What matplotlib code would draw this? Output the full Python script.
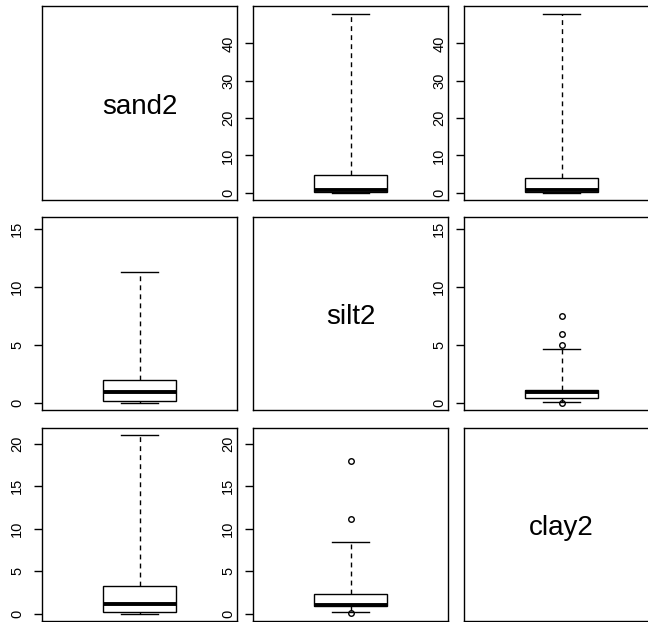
import matplotlib.pyplot as plt

plt.rcParams['font.family'] = ['Liberation Sans', 'DejaVu Sans']

names = ["sand2", "silt2", "clay2"]

# range of each variable, used for the y limits of its row
var_min = [0.0, 0.0, 0.0]
var_max = [48.1, 15.45, 21.0]
yticks = [[0, 10, 20, 30, 40], [0, 5, 10, 15], [0, 5, 10, 15, 20]]

# boxplot stats per off-diagonal panel: (row, col) -> low whisker, q1, median, q3, high whisker
whislo = {(0, 1): 0.0, (0, 2): 0.0, (1, 0): 0.0, (1, 2): 0.1, (2, 0): 0.0, (2, 1): 0.19}
q1 = {(0, 1): 0.27, (0, 2): 0.15, (1, 0): 0.17, (1, 2): 0.40, (2, 0): 0.27, (2, 1): 0.88}
med = {(0, 1): 0.8, (0, 2): 0.75, (1, 0): 0.95, (1, 2): 0.92, (2, 0): 1.13, (2, 1): 1.05}
q3 = {(0, 1): 4.74, (0, 2): 4.1, (1, 0): 1.98, (1, 2): 1.09, (2, 0): 3.31, (2, 1): 2.29}
whishi = {(0, 1): 48.0, (0, 2): 48.0, (1, 0): 11.34, (1, 2): 4.62, (2, 0): 21.0, (2, 1): 8.46}
fliers = {(0, 1): [], (0, 2): [], (1, 0): [], (1, 2): [7.47, 5.97, 4.97, 0.03],
          (2, 0): [], (2, 1): [17.97, 11.1, 0.1]}

W, H = 648, 622
fig = plt.figure(figsize=(W / 100, H / 100), dpi=100)

col_px = [(42, 237), (253, 448), (464, 659)]
row_px = [(6, 200), (217, 410), (428, 621)]

for i in range(3):
    for j in range(3):
        x0, x1 = col_px[j]
        y0, y1 = row_px[i]
        ax = fig.add_axes([x0 / W, 1 - y1 / H, (x1 - x0) / W, (y1 - y0) / H])
        for s in ax.spines.values():
            s.set_linewidth(1.0)
        ax.set_xticks([])
        r = var_max[i] - var_min[i]
        ax.set_ylim(var_min[i] - 0.04 * r, var_max[i] + 0.04 * r)
        ax.set_xlim(-0.08, 2.08)
        if i == j:
            ax.set_yticks([])
            ax.text(0.5, 0.48, names[i], transform=ax.transAxes,
                    ha='center', va='center', fontsize=20)
            continue
        k = (i, j)
        stats = [dict(whislo=whislo[k], q1=q1[k], med=med[k], q3=q3[k],
                      whishi=whishi[k], fliers=fliers[k])]
        ax.bxp(stats, positions=[1], widths=0.8, manage_ticks=False,
               patch_artist=True,
               boxprops=dict(facecolor='white', edgecolor='black', linewidth=1.0),
               medianprops=dict(color='black', linewidth=2.8, solid_capstyle='butt'),
               whiskerprops=dict(color='black', linewidth=1.0, linestyle=(0, (3.5, 3))),
               capprops=dict(color='black', linewidth=1.0),
               capwidths=0.4,
               flierprops=dict(marker='o', markersize=4, markerfacecolor='none',
                               markeredgecolor='black', markeredgewidth=1.0))
        ax.set_ylim(var_min[i] - 0.04 * r, var_max[i] + 0.04 * r)
        ax.set_yticks(yticks[i])
        ax.tick_params(axis='y', length=5.8, width=1.0, pad=7, labelsize=10.5,
                       labelrotation=90)
        for lab in ax.get_yticklabels():
            lab.set_va('center')

fig.savefig("out.png", dpi=100)
